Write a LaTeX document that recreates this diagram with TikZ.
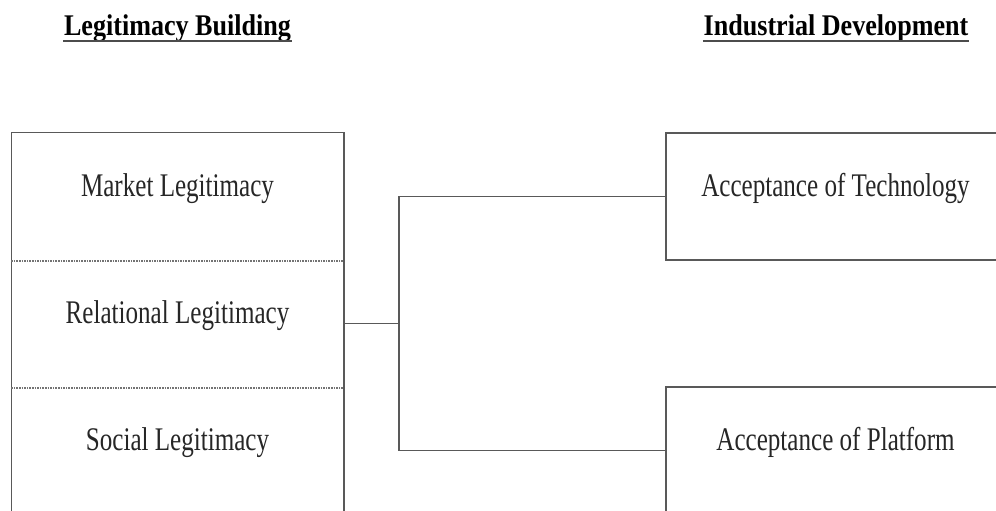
\documentclass[tikz,border=0pt]{standalone}
\usepackage{fontspec}
\setmainfont{Liberation Serif}[FakeStretch=0.76]
\newfontfamily\headfont{Liberation Serif}[FakeStretch=0.87]
\usepackage{tikz}

\begin{document}
\begin{tikzpicture}[x=1pt, y=-1pt, line width=1.5pt,
    cell/.style={minimum width=331pt, minimum height=127pt, inner sep=0pt,
        text height=24pt, text depth=24pt, text=black!85,
        font=\fontsize{33}{38}\selectfont},
    outcome/.style={cell, draw=black!65, minimum width=339pt},
    headline/.style={inner sep=0pt, text depth=0pt, anchor=base,
        font=\headfont\bfseries\fontsize{30}{34}\selectfont},
    sepline/.style={densely dotted, black!55, line width=1.6pt}]
        \path[use as bounding box] (0,0) rectangle (996,511);
        \clip (0,0) rectangle (996,511);

        % Column headings
        \node[headline] (building) at (177.5,36) {Legitimacy Building};
        \node[headline] (development) at (836,36) {Industrial Development};
        \draw[line width=1.8pt, black!70] ([yshift=-4pt]building.south west) -- ([yshift=-4pt]building.south east);
        \draw[line width=1.8pt, black!70] ([yshift=-4pt]development.south west) -- ([yshift=-4pt]development.south east);

        % Legitimacy types
        \node[cell] (market) at (177.5,196.5) {Market Legitimacy};
        \node[cell] (relational) at (177.5,323.5) {Relational Legitimacy};
        \node[cell] (social) at (177.5,450.5) {Social Legitimacy};
        \draw[black!65] (market.north west) rectangle (social.south east);
        \draw[sepline] (market.south west) -- (market.south east);
        \draw[sepline] (relational.south west) -- (relational.south east);

        % Development outcomes
        \node[outcome] (technology) at (835.5,196.5) {Acceptance of Technology};
        \node[outcome] (platform) at (835.5,450.5) {Acceptance of Platform};

        % Links
        \coordinate (fork) at (399,323.5);
        \draw[black!65] (relational.east) -- (fork);
        \draw[black!65] (technology.west) -| (fork) |- (platform.west);
\end{tikzpicture}
\end{document}
